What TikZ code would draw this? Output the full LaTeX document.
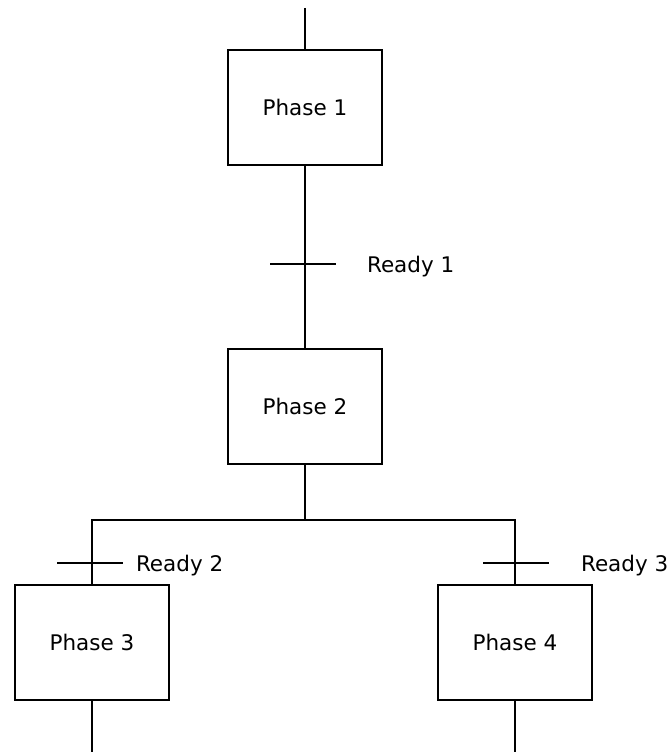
\documentclass[tikz,border=0pt]{standalone}
\usepackage{fontspec}
\setmainfont{DejaVu Sans}
\begin{document}
\begin{tikzpicture}[x=1pt,y=-1pt,
  line width=2pt,
  phase/.style={draw, minimum width=154pt, minimum height=115pt, inner sep=0pt,
                font=\fontsize{21.5}{26}\selectfont},
  bar/.style={minimum width=64pt, minimum height=0pt, inner sep=0pt},
  cond/.style={anchor=base west, inner sep=0pt, font=\fontsize{21.5}{26}\selectfont}]
  \useasboundingbox (0,0) rectangle (670,752);

  % steps
  \node[phase] (p1) at (305,107.5) {Phase 1};
  \node[phase] (p2) at (305,406.5) {Phase 2};
  \node[phase] (p3) at (92,642.5) {Phase 3};
  \node[phase] (p4) at (515,642.5) {Phase 4};

  % transitions
  \node[bar] (t1) at (303,264) {};
  \node[bar] (t2) at (90,563) {};
  \node[bar] (t3) at (516,563) {};
  \draw (t1.west) -- (t1.east);
  \draw (t2.west) -- (t2.east);
  \draw (t3.west) -- (t3.east);

  \node[cond] (r1) at (366,272.5) {Ready 1};
  \node[cond] (r2) at (135,571.5) {Ready 2};
  \node[cond] (r3) at (580,571.5) {Ready 3};

  % links
  \coordinate (in) at (305,8);
  \coordinate (fork) at (305,520);
  \coordinate (fl) at (92,520);
  \coordinate (fr) at (515,520);
  \coordinate (out3) at (92,752);
  \coordinate (out4) at (515,752);

  \draw (in) -- (p1.north);
  \draw (p1.south) -- (p2.north);
  \draw (p2.south) -- (fork);
  \draw (p3.north) -- (fl) -- (fr) -- (p4.north);
  \draw (p3.south) -- (out3);
  \draw (p4.south) -- (out4);
\end{tikzpicture}
\end{document}
